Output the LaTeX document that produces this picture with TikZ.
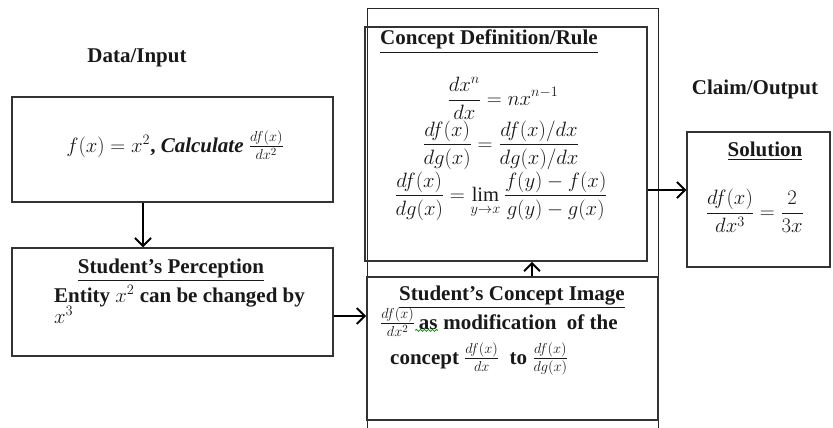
\documentclass[tikz,border=0pt]{standalone}
\usepackage{amsmath}
\usepackage{fontspec}
\setmainfont{Liberation Serif}
\usetikzlibrary{arrows.meta,decorations.pathmorphing}
\begin{document}
\begin{tikzpicture}[x=1pt,y=-1pt,
  box/.style={draw=black!80, line width=1.3pt, inner sep=0pt, fill=none},
  thinbox/.style={draw=black!85, line width=0.9pt, inner sep=0pt},
  txt/.style={font=\bfseries\fontsize{21}{25}\selectfont, inner sep=0pt, text=black!90},
  mth/.style={font=\fontsize{20.5}{24}\selectfont, inner sep=0pt, text=black!90},
  arr/.style={line width=2pt, -{Straight Barb[length=8pt,width=16pt,line width=2pt]}},
  wavy/.style={draw=green!55!black, line width=0.8pt, decorate, decoration={snake, amplitude=1pt, segment length=4pt}}]
\useasboundingbox (0,0) rectangle (833,428);

% labels
\node[txt, anchor=base] (dlab) at (137,63) {Data/Input};
\node[txt, anchor=base] (clab) at (755,95) {Claim/Output};

% outer frame (cut at the bottom)
\node[thinbox, minimum width=291, minimum height=440, anchor=north west] (outer) at (367,8) {};

% data/input box
\node[box, minimum width=321, minimum height=105] (b1) at (172.5,149.5) {};
\node[txt, anchor=base] (b1t) at (175,152) {$f(x)=x^2$, \textit{Calculate} $\tfrac{df(x)}{dx^2}$};

% student's perception
\node[box, minimum width=321, minimum height=108] (perc) at (172.5,302) {};
\node[txt, anchor=base] (perct) at (171,273) {\underline{Student’s Perception}};
\node[txt, anchor=base west] (percl) at (54,302) {Entity $x^2$ can be changed by};
\node[txt, anchor=base west] (percm) at (54,323) {$x^3$};

% concept definition
\node[box, line width=1.6pt, minimum width=282, minimum height=234] (cdef) at (506,144) {};
\node[txt, anchor=base] (cdeft) at (489,45) {\underline{Concept Definition/Rule}};
\node[mth] (eq1) at (503,98) {$\displaystyle\frac{dx^n}{dx}=nx^{n-1}$};
\node[mth] (eq2) at (501,145) {$\displaystyle\frac{df(x)}{dg(x)}=\frac{df(x)/dx}{dg(x)/dx}$};
\node[mth] (eq3) at (501,196) {$\displaystyle\frac{df(x)}{dg(x)}=\lim_{y\to x}\frac{f(y)-f(x)}{g(y)-g(x)}$};

% concept image
\node[box, line width=1.6pt, minimum width=291, minimum height=143] (cimg) at (512.5,348.5) {};
\node[txt, anchor=base] (cimgt) at (512,300) {\underline{Student’s Concept Image}};
\node[txt, anchor=base west] (l2a) at (380,329) {$\tfrac{df(x)}{dx^2}$};
\node[txt, anchor=base west] (l2b) at (l2a.base east) {\,as};
\node[txt, anchor=base west] (l2c) at (l2b.base east) {\ modification \ of the};
\draw[wavy] ([yshift=-1pt]l2b.south west) -- ([yshift=-1pt]l2b.south east);
\node[txt, anchor=base west] (l3) at (390,364) {concept $\tfrac{df(x)}{dx}$ \ to $\tfrac{df(x)}{dg(x)}$};

% solution
\node[box, minimum width=143, minimum height=135] (sol) at (758.5,199.5) {};
\node[txt, anchor=base] (solt) at (765,156) {\underline{Solution}};
\node[mth] (soleq) at (755,211) {$\displaystyle\frac{df(x)}{dx^3}=\frac{2}{3x}$};

% connectors
\coordinate (ax1) at (143,0);
\coordinate (ay2) at (0,316);
\coordinate (ax3) at (532,0);
\coordinate (ay4) at (0,190);
\draw[arr] (ax1 |- b1.south) -- (ax1 |- perc.north);
\draw[arr] (perc.east |- ay2) -- (cimg.west |- ay2);
\draw[arr] (ax3 |- cimg.north) -- (ax3 |- cdef.south);
\draw[arr] (cdef.east |- ay4) -- (sol.west |- ay4);
\end{tikzpicture}
\end{document}
